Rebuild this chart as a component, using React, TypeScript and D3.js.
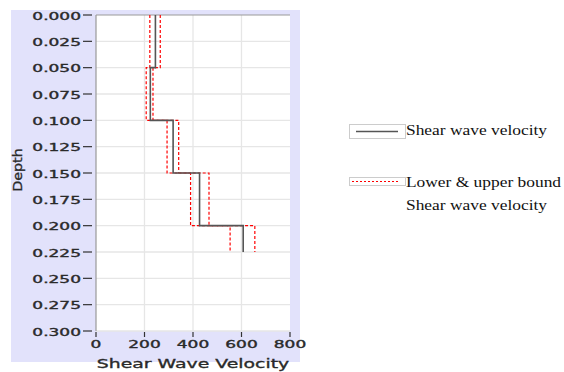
import React from 'react';
import * as d3 from 'd3';

// layer boundaries (depth) and velocities
const depthEdges = [0, 0.05, 0.1, 0.15, 0.2, 0.225];
const velocity = [245, 224, 318, 427, 607];
const lowerBound = [222, 207, 293, 390, 553];
const upperBound = [265, 235, 341, 466, 655];

const depthTicks = d3.range(0, 0.3001, 0.025);
const velocityTicks = [0, 200, 400, 600, 800];

const W = 564;
const H = 372;
const plot = { left: 96, right: 290, top: 15, bottom: 331 };

function stepPoints(vals: number[]) {
  const pts: [number, number][] = [];
  vals.forEach((v, i) => {
    pts.push([v, depthEdges[i]]);
    pts.push([v, depthEdges[i + 1]]);
  });
  return pts;
}

export default function App() {
  const x = d3.scaleLinear().domain([0, 800]).range([plot.left, plot.right]);
  const y = d3.scaleLinear().domain([0, 0.3]).range([plot.top, plot.bottom]);
  const line = d3
    .line<[number, number]>()
    .x((d) => x(d[0]))
    .y((d) => y(d[1]));

  // the original text is a bit heavier than plain DejaVu, so add a thin stroke
  const tickFont = {
    fontFamily: 'DejaVu Sans',
    fontSize: 10,
    fill: '#2a2a2a',
    stroke: '#2a2a2a',
    strokeWidth: 0.35,
  };

  return (
    <svg
      width={W}
      height={H}
      style={{ position: 'absolute', left: 0, top: 0, background: '#fff' }}
    >
      {/* lavender panel behind the chart */}
      <rect x={11} y={10} width={289} height={352} fill="#e2e2fb" />
      <rect
        x={plot.left}
        y={plot.top}
        width={plot.right - plot.left}
        height={plot.bottom - plot.top}
        fill="#fff"
      />

      {/* grid */}
      <g stroke="#e6e6e6" strokeWidth={1.3}>
        {depthTicks.slice(1).map((t) => (
          <line key={t} x1={plot.left} x2={plot.right} y1={y(t)} y2={y(t)} />
        ))}
        {velocityTicks.slice(1, 4).map((t) => (
          <line key={t} x1={x(t)} x2={x(t)} y1={plot.top} y2={plot.bottom} />
        ))}
      </g>
      <line x1={plot.left} x2={plot.right} y1={plot.top} y2={plot.top} stroke="#999" strokeWidth={1.2} />
      <line x1={plot.left} x2={plot.left} y1={plot.top} y2={plot.bottom} stroke="#999" strokeWidth={1.2} />

      {/* y axis */}
      {depthTicks.map((t) => (
        <g key={t}>
          <line x1={83} x2={92} y1={y(t)} y2={y(t)} stroke="#333" strokeWidth={1.2} />
          <text
            {...tickFont}
            textAnchor="end"
            dominantBaseline="central"
            transform={`translate(81,${y(t) + 1}) scale(1.7,1)`}
          >
            {t.toFixed(3)}
          </text>
        </g>
      ))}

      {/* x axis */}
      {velocityTicks.map((t) => (
        <g key={t}>
          <line x1={x(t)} x2={x(t)} y1={plot.bottom + 1} y2={plot.bottom + 6} stroke="#333" strokeWidth={1.2} />
          <text
            {...tickFont}
            textAnchor="middle"
            transform={`translate(${x(t)},348) scale(1.7,1)`}
          >
            {t}
          </text>
        </g>
      ))}

      <text
        {...tickFont}
        fontSize={13}
        textAnchor="middle"
        transform={`translate(${(plot.left + plot.right) / 2},368) scale(1.45,1)`}
      >
        Shear Wave Velocity
      </text>
      <text
        {...tickFont}
        fontSize={13}
        textAnchor="middle"
        transform="translate(22,170) rotate(-90) scale(1.1,1)"
      >
        Depth
      </text>

      {/* profiles */}
      <path d={line(stepPoints(lowerBound)) ?? ''} fill="none" stroke="#ff0000" strokeWidth={1.2} strokeDasharray="3,2" />
      <path d={line(stepPoints(upperBound)) ?? ''} fill="none" stroke="#ff0000" strokeWidth={1.2} strokeDasharray="3,2" />
      <path d={line(stepPoints(velocity)) ?? ''} fill="none" stroke="#555" strokeWidth={1.6} />

      {/* legend */}
      <rect x={349.5} y={124.5} width={56} height={14} fill="#fff" stroke="#ccc" />
      <line x1={356} x2={398} y1={131.5} y2={131.5} stroke="#555" strokeWidth={1.6} />
      <text fontFamily="Liberation Serif" fontSize={15} fill="#111" transform="translate(406,135) scale(1.16,1)">
        Shear wave velocity
      </text>

      <rect x={349.5} y={177.5} width={56} height={8} fill="#fff" stroke="#ccc" />
      <line x1={352} x2={400} y1={181.5} y2={181.5} stroke="#ff0000" strokeWidth={1.2} strokeDasharray="2,2" />
      <text fontFamily="Liberation Serif" fontSize={15} fill="#111" transform="translate(406,187) scale(1.16,1)">
        Lower &amp; upper bound
      </text>
      <text fontFamily="Liberation Serif" fontSize={15} fill="#111" transform="translate(406,210) scale(1.16,1)">
        Shear wave velocity
      </text>
    </svg>
  );
}
